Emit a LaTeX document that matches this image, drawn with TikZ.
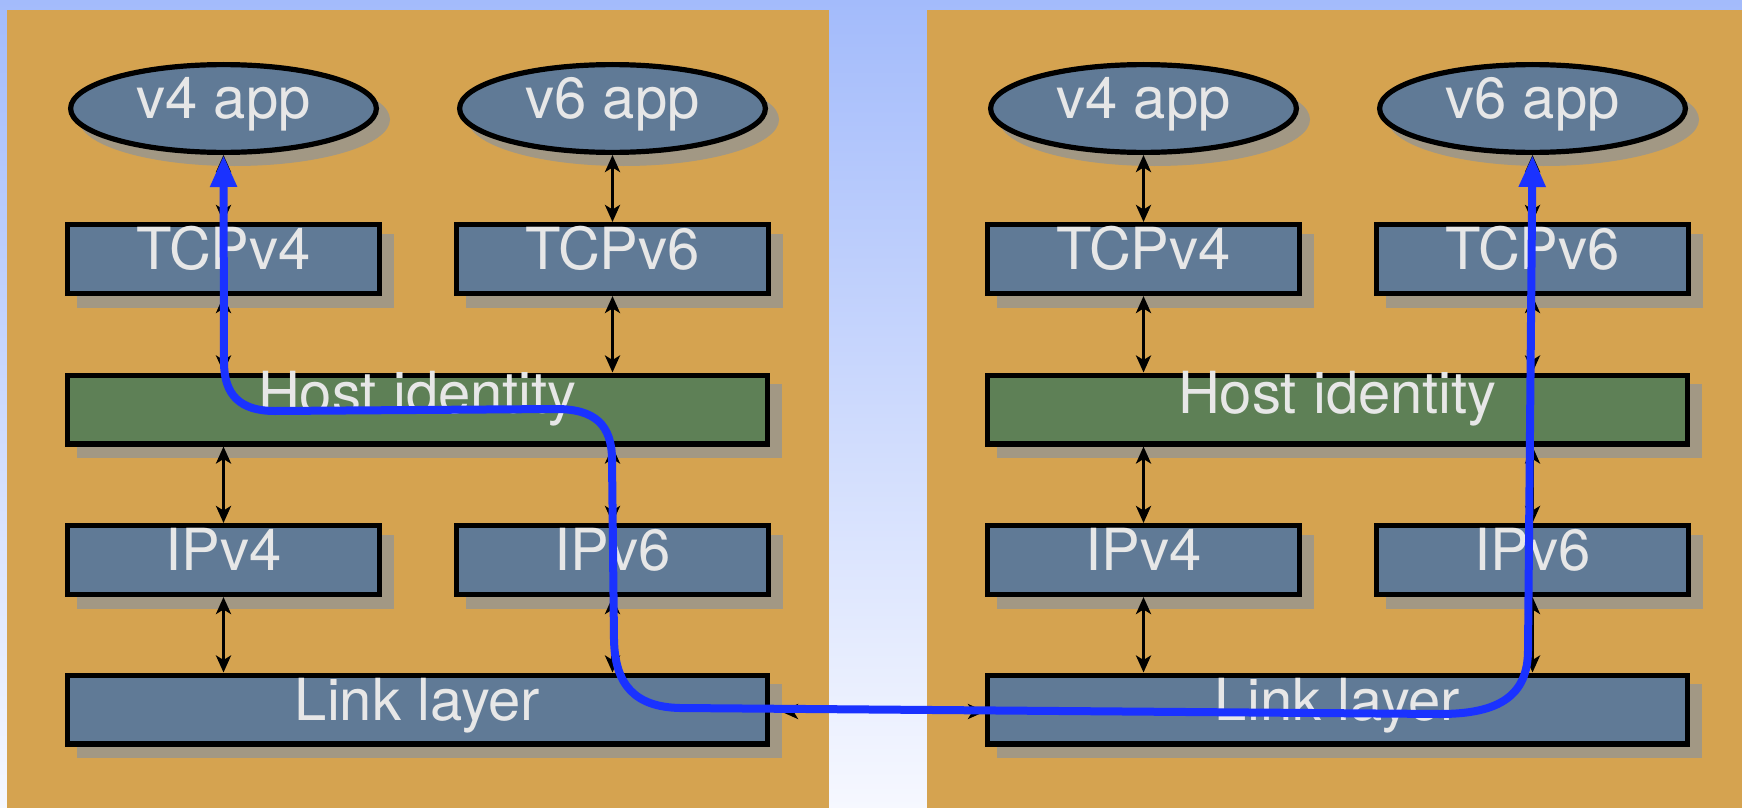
\documentclass[tikz,border=0pt]{standalone}
\usepackage{fontspec}
\setmainfont{TeX Gyre Heros}
\usetikzlibrary{arrows.meta,shapes.geometric}
\pgfdeclarelayer{bg}
\pgfdeclarelayer{shade}
\pgfsetlayers{bg,shade,main}

\definecolor{skytop}{RGB}{163,187,251}
\definecolor{skybot}{RGB}{246,248,255}
\definecolor{panel}{RGB}{213,163,80}
\definecolor{slate}{RGB}{96,122,150}
\definecolor{moss}{RGB}{94,128,86}
\definecolor{ink}{RGB}{231,231,231}
\definecolor{shadowc}{RGB}{162,152,132}
\definecolor{route}{RGB}{26,50,255}

\tikzset{
  labelfont/.style={text=ink, font=\fontsize{58}{60}\selectfont},
  layerbox/.style={rectangle, draw=black, line width=5.2pt, inner sep=0pt,
    labelfont, text height=21pt, text depth=0pt, minimum height=68.8pt},
  narrowbox/.style={layerbox, fill=slate, minimum width=311.8pt},
  widebox/.style={layerbox, fill=slate, minimum width=699.8pt},
  appnode/.style={ellipse, draw=black, line width=5.2pt, fill=slate, inner sep=0pt,
    labelfont, text height=19pt, text depth=0pt,
    minimum width=305.8pt, minimum height=87.8pt},
  updown/.style={draw=black, line width=3.4pt,
    {Stealth[length=17pt,width=15pt,inset=4.5pt]}-{Stealth[length=17pt,width=15pt,inset=4.5pt]}},
  routeline/.style={draw=route, line width=8pt,
    {Triangle[length=32pt,width=25pt]}-{Triangle[length=32pt,width=25pt]}}
}

\begin{document}
\begin{tikzpicture}[x=1pt,y=-1pt]
\useasboundingbox (0,0) rectangle (1742,808);

% sky backdrop and the two host panels
\begin{pgfonlayer}{bg}
  \fill[top color=skytop, bottom color=skybot] (0,0) rectangle (1742,808);
  \fill[panel] (7,10) rectangle (829,808);
  \fill[panel] (927,10) rectangle (1742,808);
\end{pgfonlayer}

% one protocol stack per host
\foreach \s/\dx in {L/0,R/920}{
  \node[appnode]  (v4\s)   at (223.5+\dx,108.5) {v4 app};
  \node[appnode]  (v6\s)   at (612.5+\dx,108.5) {v6 app};
  \node[narrowbox] (tcp4\s) at (223.5+\dx,259) {TCPv4};
  \node[narrowbox] (tcp6\s) at (612.5+\dx,259) {TCPv6};
  \node[widebox, fill=moss, text height=7pt] (hip\s) at (417.5+\dx,409.5) {Host identity};
  \node[narrowbox] (ip4\s)  at (223.5+\dx,560) {IPv4};
  \node[narrowbox] (ip6\s)  at (612.5+\dx,560) {IPv6};
  \node[widebox]   (link\s) at (417.5+\dx,709.5) {Link layer};

  % drop shadows
  \begin{pgfonlayer}{shade}
    \foreach \n in {tcp4,tcp6,hip,ip4,ip6,link}
      \fill[shadowc] ([shift={(11.5,11.5)}]\n\s.south west)
        rectangle ([shift={(11.5,11.5)}]\n\s.north east);
    \foreach \n in {v4,v6}
      \fill[shadowc] ([shift={(11,11)}]\n\s.center) ellipse [x radius=155.5pt, y radius=46.5pt];
  \end{pgfonlayer}

  % layer-to-layer connectors
  \draw[updown] (v4\s.south) -- (tcp4\s.north);
  \draw[updown] (tcp4\s.south) -- (tcp4\s.south |- hip\s.north);
  \draw[updown] (hip\s.south -| ip4\s.north) -- (ip4\s.north);
  \draw[updown] (ip4\s.south) -- (ip4\s.south |- link\s.north);
  \draw[updown] (v6\s.south) -- (tcp6\s.north);
  \draw[updown] (tcp6\s.south) -- (tcp6\s.south |- hip\s.north);
  \draw[updown] (hip\s.south -| ip6\s.north) -- (ip6\s.north);
  \draw[updown] (ip6\s.south) -- (ip6\s.south |- link\s.north);
}

% wire between the two link layers
\draw[updown] ([xshift=11pt,yshift=-2pt]linkL.east) -- ([yshift=-2pt]linkR.west);

% end-to-end route from the v4 app to the v6 app
\path[routeline] (v4L.south) -- (224,362)
  .. controls (224,395) and (240,411) .. (275,411)
  -- (556,409)
  .. controls (595,409) and (612,425) .. (612,460)
  -- (614,640)
  .. controls (615,685) and (635,707) .. (680,708)
  -- (1440,714)
  .. controls (1500,714) and (1528,695) .. (1528,650)
  -- (v6R.south);
\end{tikzpicture}
\end{document}
